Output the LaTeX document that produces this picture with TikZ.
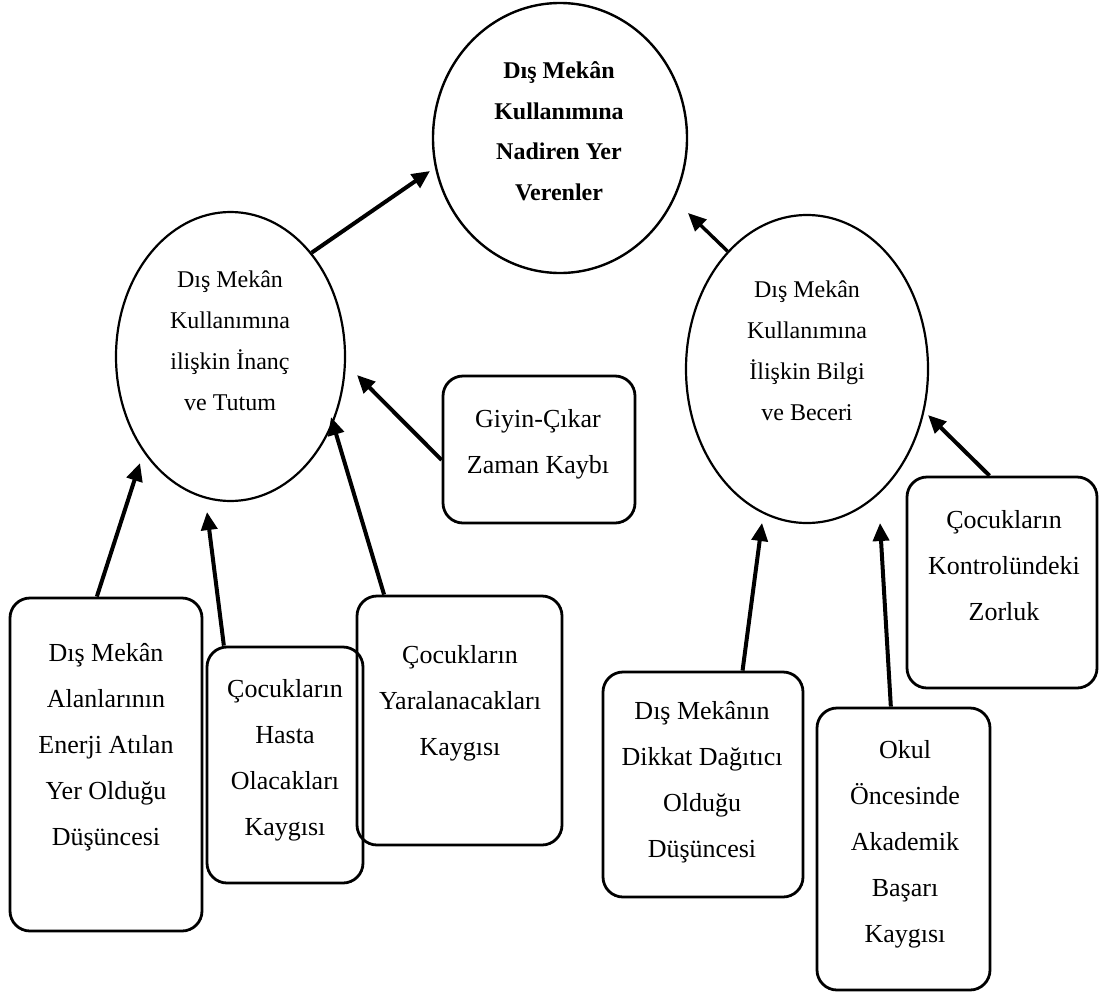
\documentclass[tikz,border=0pt]{standalone}
\usepackage{fontspec}
\setmainfont{Liberation Serif}
\usetikzlibrary{shapes.geometric,arrows.meta,calc}

\tikzset{
  cardbox/.style={draw, line width=2.8pt, rounded corners=20pt, inner sep=0pt},
  oval/.style={draw, ellipse, line width=2.2pt, inner sep=0pt},
  % text nodes are placed by the baseline of their last line
  boxtext/.style={anchor=base, align=center, inner sep=0pt, font=\fontsize{26}{46}\selectfont},
  ovaltext/.style={anchor=base, align=center, inner sep=0pt, font=\fontsize{24}{41}\selectfont},
  hubtext/.style={anchor=base, align=center, inner sep=0pt, font=\fontsize{24}{40.5}\selectfont\bfseries},
  arr/.style={line width=4pt, -{Triangle[length=18pt,width=16pt]}}
}

\begin{document}
\begin{tikzpicture}[x=1pt,y=-1pt]
\useasboundingbox (0,0) rectangle (1099,993);

% central circle
\node[oval, line width=2.4pt, minimum width=254pt, minimum height=270pt] (C) at (560,138) {};
\node[hubtext] (Ct) at (559,200) {Dış Mekân\\Kullanımına\\Nadiren Yer\\Verenler};

% the two intermediate ellipses
\node[oval, minimum width=229pt, minimum height=289pt] (L) at (230.5,356.5) {};
\node[ovaltext] (Lt) at (230,410) {Dış Mekân\\Kullanımına\\ilişkin İnanç\\ve Tutum};
\node[oval, minimum width=242pt, minimum height=308pt] (R) at (807,369) {};
\node[ovaltext] (Rt) at (807,420) {Dış Mekân\\Kullanımına\\İlişkin Bilgi\\ve Beceri};

% factor boxes
\node[cardbox, minimum width=192pt, minimum height=147pt] (G) at (539,449.5) {};
\node[boxtext] (Gt) at (538,473) {Giyin-Çıkar\\Zaman Kaybı};

\node[cardbox, minimum width=192pt, minimum height=333pt] (B1) at (106,764.5) {};
\node[boxtext] (B1t) at (106,845) {Dış Mekân\\Alanlarının\\Enerji Atılan\\Yer Olduğu\\Düşüncesi};

\node[cardbox, minimum width=156pt, minimum height=236pt] (B2) at (285,765) {};
\node[boxtext] (B2t) at (285,835) {Çocukların\\Hasta\\Olacakları\\Kaygısı};

\node[cardbox, minimum width=205pt, minimum height=249pt] (B3) at (459.5,720.5) {};
\node[boxtext] (B3t) at (460,755) {Çocukların\\Yaralanacakları\\Kaygısı};

\node[cardbox, minimum width=200pt, minimum height=225pt] (B4) at (703,784.5) {};
\node[boxtext] (B4t) at (702,857) {Dış Mekânın\\Dikkat Dağıtıcı\\Olduğu\\Düşüncesi};

\node[cardbox, minimum width=173pt, minimum height=282pt] (B5) at (903.5,849) {};
\node[boxtext] (B5t) at (905,942) {Okul\\Öncesinde\\Akademik\\Başarı\\Kaygısı};

\node[cardbox, minimum width=190pt, minimum height=211pt] (B6) at (1002,582.5) {};
\node[boxtext] (B6t) at (1004,620) {Çocukların\\Kontrolündeki\\Zorluk};

% arrow tips stop short of the ellipses
\coordinate (tipLC) at (430,171);
\coordinate (tipRC) at (688,213);
\coordinate (tipG)  at (357,375);
\coordinate (tip1)  at (140,463);
\coordinate (tip2)  at (207,512);
\coordinate (tip3)  at (331,417);
\coordinate (tip4)  at (762,523);
\coordinate (tip5)  at (880,523);
\coordinate (tip6)  at (928,415);

\draw[arr] (L.52.7) -- (tipLC);
\draw[arr, line width=3.4pt] (R.124.9) -- (tipRC);
\draw[arr] ([yshift=-10.5pt]G.west) -- (tipG);
\draw[arr] ($(B1.north west)!0.453!(B1.north east)$) -- (tip1);
\draw[arr] ($(B2.north west)!0.115!(B2.north east)$) -- (tip2);
\draw[arr] ($(B3.north west)!0.137!(B3.north east)$) -- (tip3);
\draw[arr] ($(B4.north west)!0.695!(B4.north east)$) -- (tip4);
\draw[arr] ($(B5.north west)!0.428!(B5.north east)$) -- (tip5);
\draw[arr] ($(B6.north west)!0.435!(B6.north east)$) -- (tip6);
\end{tikzpicture}
\end{document}
